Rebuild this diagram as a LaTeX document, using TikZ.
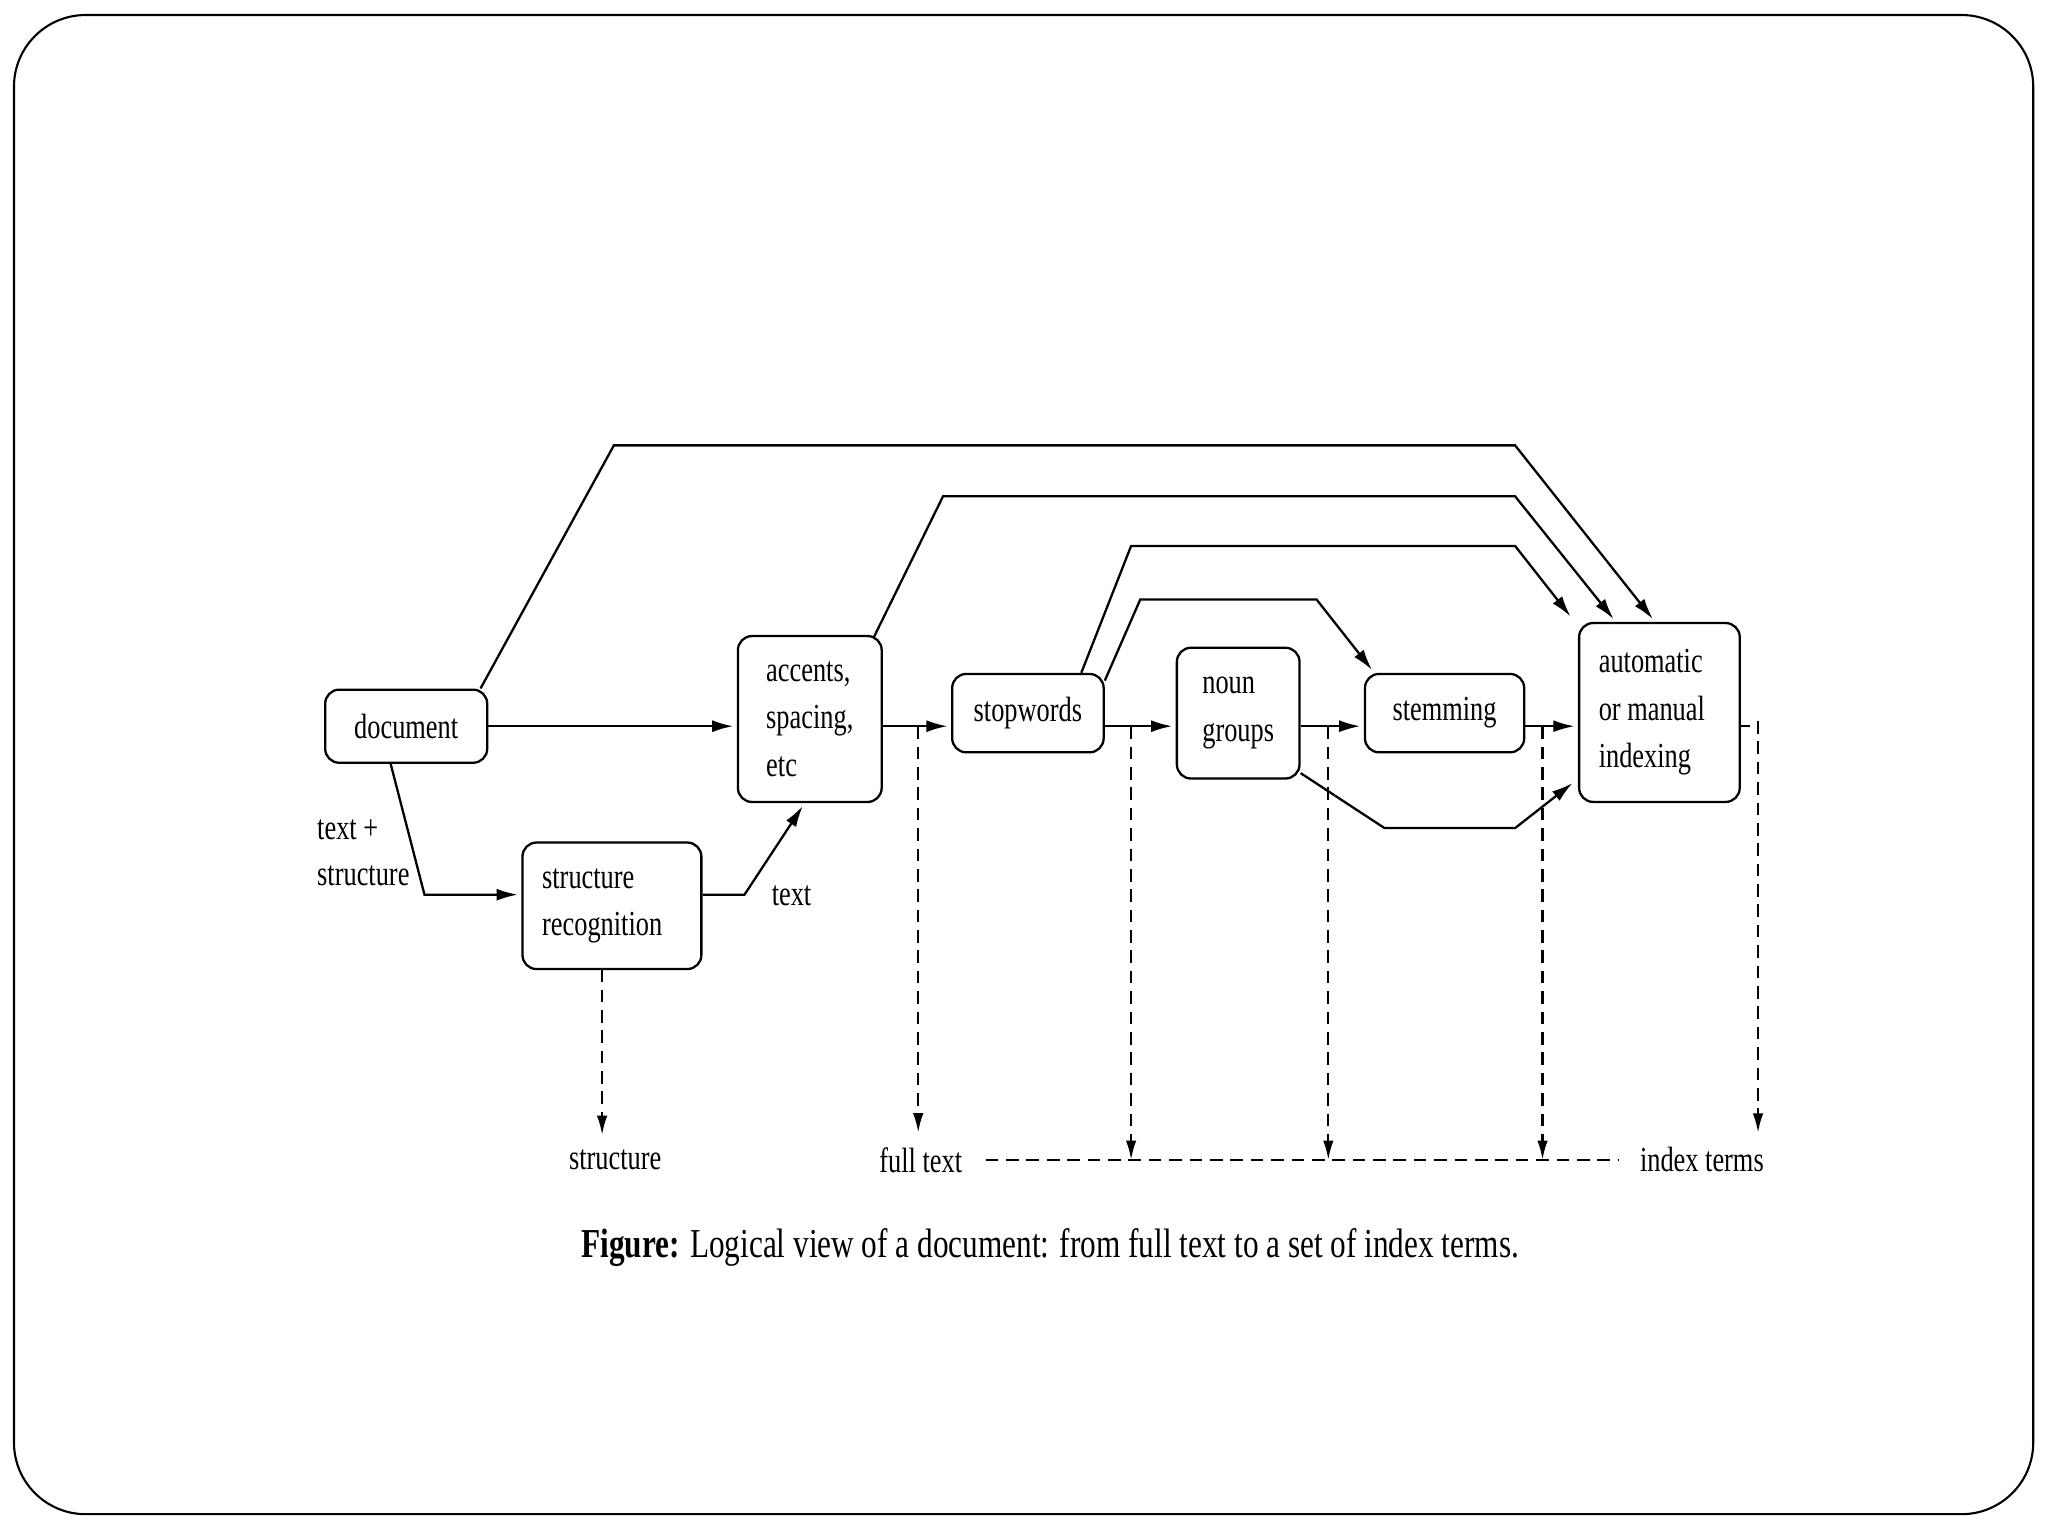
\documentclass[tikz,border=0pt]{standalone}
\usepackage{fontspec}
\setmainfont{Liberation Serif}
\newfontfamily\diagfont{Liberation Serif}[FakeStretch=0.75]
\newfontfamily\capfont{Liberation Serif}[FakeStretch=0.76]
\usetikzlibrary{arrows.meta,calc}
\begin{document}
\begin{tikzpicture}[x=0.01306cm,y=-0.01306cm,
  box/.style={draw,line width=0.65pt,rounded corners=4pt,inner sep=0pt,align=left,
    font=\diagfont\fontsize{10}{13.5}\selectfont},
  lbl/.style={inner sep=0.5pt,align=left,font=\diagfont\fontsize{10}{13}\selectfont},
  conn/.style={line width=0.65pt},
  arr/.style={conn,-{Latex[length=6pt,width=3.4pt]},shorten >=1pt},
  dsh/.style={line width=0.65pt,dash pattern=on 3.6pt off 2.2pt},
  darr/.style={dsh,-{Latex[length=5.5pt,width=3pt]}}
]
\useasboundingbox (0,0) rectangle (1568,1176);
\draw[line width=0.6pt,rounded corners=20.4pt] (10.7,11.5) rectangle (1556.7,1159.3);

% nodes
\node[box,minimum width=46.1pt,minimum height=20.8pt] (document) at (311,556) {document};
\node[box,align=flush left,inner xsep=5.6pt,text width=39.7pt,minimum height=36pt] (structrec) at (468.5,693.5) {structure\\recognition};
\node[box,minimum width=40.9pt,minimum height=47.2pt] (accents) at (620,550.5) {accents,\\spacing,\\etc};
\node[box,minimum width=43.1pt,minimum height=22.3pt] (stopwords) at (787,546) {stopwords};
\node[box,minimum width=34.9pt,minimum height=37.2pt] (noun) at (948,546) {noun\\groups};
\node[box,minimum width=45.3pt,minimum height=22.3pt] (stemming) at (1106,546) {stemming};
\node[box,align=flush left,inner xsep=5.6pt,text width=34.5pt,minimum height=50.9pt] (auto) at (1270.5,545.5) {automatic\\or manual\\indexing};

% labels
\node[lbl,anchor=west] (tplus) at (241,653) {text +\\structure};
\node[lbl] (textlbl) at (606,686) {text};
\node[lbl] (structlbl) at (471,888) {structure};
\node[lbl] (fulltext) at (705,888) {full text};
\node[lbl] (indexterms) at (1303,888) {index terms};
\node[inner sep=0pt,font=\capfont\fontsize{11.7}{13.5}\selectfont] (caption) at (804,955)
  {\textbf{Figure:} Logical view of a document: from full text to a set of index terms.};

% coordinates
\coordinate (my) at (0,556);
\coordinate (sy) at (0,685);
\coordinate (h) at (0,888);
\coordinate (t1) at (703,556);
\coordinate (t2) at (866,556);
\coordinate (t3) at (1017,556);
\coordinate (t4) at (1181,556);
\coordinate (t5) at (1346,552);
\coordinate (stubend) at (1340,556);
\coordinate (sx) at (461,742);

% main chain
\draw[arr] (document.east |- my) -- (accents.west |- my);
\draw[arr] (accents.east |- my) -- (stopwords.west |- my);
\draw[arr] (stopwords.east |- my) -- (noun.west |- my);
\draw[arr] (noun.east |- my) -- (stemming.west |- my);
\draw[arr] (stemming.east |- my) -- (auto.west |- my);
\draw[conn] (auto.east |- my) -- (stubend);

% document -> structure recognition -> accents
\draw[arr] ($(document.south west)+(51,0)$) -- (325,685) -- (structrec.west |- sy);
\draw[arr] (structrec.east |- sy) -- (570,685) -- ($(accents.south west)+(52,0)$);

% upper bypass lines
\draw[arr] ($(document.north east)+(-6,0)$) -- (470,341) -- (1160,341) -- ($(auto.north west)+(59,0)$);
\draw[arr] ($(accents.north east)+(-7,2)$) -- (722,380) -- (1160,380) -- ($(auto.north west)+(29,0)$);
\draw[arr] ($(stopwords.north east)+(-18,0)$) -- (866,418) -- (1160,418) -- ($(auto.north west)+(-4,-2)$);
\draw[arr] ($(stopwords.north east)+(0,6)$) -- (873,459) -- (1008,459) -- ($(stemming.north west)+(8,0)$);
\draw[arr] ($(noun.south east)+(0,-5)$) -- (1060,634) -- (1160,634) -- ($(auto.south west)+(-2,-17)$);

% dashed outputs
\draw[darr,shorten >=3.5pt] (sx) -- (sx |- structlbl.north);
\draw[darr,shorten >=3.5pt] (t1) -- (t1 |- fulltext.north);
\draw[darr] (t2) -- (t2 |- h);
\draw[darr] (t3) -- (t3 |- h);
\draw[darr] (t4) -- (t4 |- h);
\draw[darr,shorten >=3.5pt] (t5) -- (t5 |- indexterms.north);
\draw[dsh,shorten <=6pt,shorten >=5.5pt] (fulltext.east) -- (indexterms.west);
\end{tikzpicture}
\end{document}
